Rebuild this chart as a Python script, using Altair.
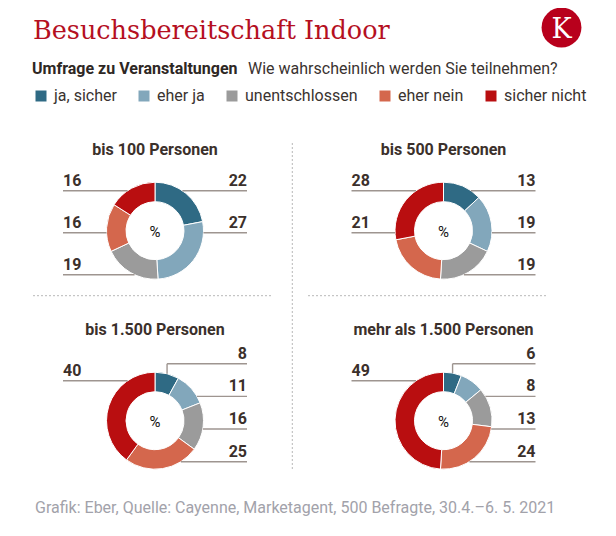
import math
import altair as alt
import pandas as pd

# ---------------- data ----------------
categories = ["ja, sicher", "eher ja", "unentschlossen", "eher nein", "sicher nicht"]
panel_titles = ["bis 100 Personen", "bis 500 Personen", "bis 1.500 Personen", "mehr als 1.500 Personen"]
values_bis_100 = [22, 27, 19, 16, 16]
values_bis_500 = [13, 19, 19, 21, 28]
values_bis_1500 = [8, 11, 16, 25, 40]
values_mehr_1500 = [6, 8, 13, 24, 49]

title_text = "Besuchsbereitschaft Indoor"
subtitle_bold = "Umfrage zu Veranstaltungen"
subtitle_text = "Wie wahrscheinlich werden Sie teilnehmen?"
source_text = "Grafik: Eber, Quelle: Cayenne, Marketagent, 500 Befragte, 30.4.–6. 5. 2021"

# ---------------- styles / layout ----------------
colors = ["#2f6a84", "#82a7bb", "#9b9b9b", "#d4674d", "#b90e10"]
RED = "#b5101f"
DARK = "#3b302b"
W, H = 600, 520
col_x = [147, 435.5]
row_y = [222.7, 412.7]
title_y = [147, 327]
R_OUT, R_IN, REACH = 48.5, 29, 92

panel_values = [values_bis_100, values_bis_500, values_bis_1500, values_mehr_1500]

arc_rows, rule_rows, label_rows, ptitle_rows, center_rows = [], [], [], [], []
for p, (ptitle, vals) in enumerate(zip(panel_titles, panel_values)):
    cx = col_x[p % 2]
    cy = row_y[p // 2]
    total = sum(vals)
    cum = 0
    items = []
    for cat, v in zip(categories, vals):
        t0, t1 = cum, cum + v
        cum = t1
        arc_rows.append(dict(panel=ptitle, category=cat, t0=t0 / total * 100,
                             t1=t1 / total * 100, cx=cx, cy=cy))
        mid = (t0 + t1) / 2 / total * 2 * math.pi
        items.append(dict(val=v, mid=mid, side="right" if mid < math.pi else "left"))
    right = sorted([i for i in items if i["side"] == "right"], key=lambda d: d["mid"])
    left = sorted([i for i in items if i["side"] == "left"], key=lambda d: -d["mid"])
    for group, sgn in ((right, 1), (left, -1)):
        n = len(group)
        if n == 0:
            continue
        step = 42 if n < 2 else min(42, 98 / (n - 1))
        span = step * (n - 1)
        top = -40 if span <= 90 else 41 - span
        for k, it in enumerate(group):
            dy = top + k * step
            ly = cy + dy
            x_out = cx + sgn * REACH
            if abs(dy) < R_OUT:
                x_in = cx + sgn * math.sqrt(R_OUT ** 2 - dy ** 2)
            else:
                ax = cx + R_OUT * math.sin(it["mid"])
                ay = cy - R_OUT * math.cos(it["mid"])
                x_in = ax
                rule_rows.append(dict(x=ax, x2=ax, y=ay, y2=ly))
            rule_rows.append(dict(x=min(x_in, x_out), x2=max(x_in, x_out), y=ly, y2=ly))
            label_rows.append(dict(x=x_out, y=ly - 5, text=str(it["val"]), side=it["side"]))
    ptitle_rows.append(dict(x=cx, y=title_y[p // 2], text=ptitle))
    center_rows.append(dict(x=cx, y=cy + 6, text="%"))

arcs = pd.DataFrame(arc_rows)
rules = pd.DataFrame(rule_rows)
labels = pd.DataFrame(label_rows)
ptitles = pd.DataFrame(ptitle_rows)
centers = pd.DataFrame(center_rows)

xs = alt.Scale(domain=[0, W], range=[0, W])
ys = alt.Scale(domain=[0, H], range=[0, H])


def X(f):
    return alt.X(f, type="quantitative", scale=xs, axis=None)


def Y(f):
    return alt.Y(f, type="quantitative", scale=ys, axis=None)


donuts = alt.Chart(arcs).mark_arc(radius=R_OUT, radius2=R_IN, stroke="white", strokeWidth=1).encode(
    x=X("cx"), y=Y("cy"),
    theta=alt.Theta("t0:Q", stack=None, scale=alt.Scale(domain=[0, 100], range=[0, 2 * math.pi])),
    theta2="t1:Q",
    color=alt.Color("category:N", scale=alt.Scale(domain=categories, range=colors),
                    legend=alt.Legend(orient="none", legendX=25, legendY=80, direction="horizontal",
                                      title=None, symbolType="square", symbolSize=121,
                                      symbolStrokeWidth=0, symbolOpacity=1, labelFont="Roboto",
                                      labelFontSize=16, labelColor="#3a3330", columnPadding=19,
                                      labelOffset=5, padding=0, labelLimit=300)),
)

leader = alt.Chart(rules).mark_rule(color="#9e9590", strokeWidth=1.4).encode(
    x=X("x"), x2="x2", y=Y("y"), y2="y2")

lab_r = alt.Chart(labels[labels.side == "right"]).mark_text(
    align="right", baseline="alphabetic", font="Roboto", fontSize=16, fontWeight="bold", color=DARK
).encode(x=X("x"), y=Y("y"), text="text:N")
lab_l = alt.Chart(labels[labels.side == "left"]).mark_text(
    align="left", baseline="alphabetic", font="Roboto", fontSize=16, fontWeight="bold", color=DARK
).encode(x=X("x"), y=Y("y"), text="text:N")

ptitle_layer = alt.Chart(ptitles).mark_text(
    align="center", baseline="alphabetic", font="Roboto", fontSize=16, fontWeight="bold", color=DARK
).encode(x=X("x"), y=Y("y"), text="text:N")

pct = alt.Chart(centers).mark_text(
    align="center", baseline="alphabetic", font="Roboto", fontSize=15, color="#111111"
).encode(x=X("x"), y=Y("y"), text="text:N")

# separators (decoration)
sep_df = pd.DataFrame([
    dict(x=284.3, x2=284.3, y=135, y2=462),
    dict(x=25, x2=265, y=287.7, y2=287.7),
    dict(x=300, x2=540, y=287.7, y2=287.7),
])
seps = alt.Chart(sep_df).mark_rule(color="#b8b8b8", strokeWidth=1, strokeDash=[2, 2]).encode(
    x=X("x"), x2="x2", y=Y("y"), y2="y2")

# title / subtitle / footer
def txt(s, x, y, **kw):
    return alt.Chart(pd.DataFrame({"t": [s]})).mark_text(baseline="alphabetic", **kw).encode(
        x=alt.value(x), y=alt.value(y), text="t:N")

title = txt(title_text, 25, 30.5, align="left", font="DejaVu Serif", fontSize=25.5, color=RED)
sub1 = txt(subtitle_bold, 24, 66, align="left", font="Roboto", fontSize=16, fontWeight="bold", color="#2e2724")
sub2 = txt(subtitle_text, 240, 66, align="left", font="Roboto", fontSize=16, color="#3a3330")
foot = txt(source_text, 27, 505, align="left", font="Roboto", fontSize=16, color="#a2a2aa")

logo = alt.Chart(pd.DataFrame({"t": ["K"]})).mark_circle(size=math.pi * 22.5 ** 2, color="#b8001c", opacity=1).encode(
    x=alt.value(553.5), y=alt.value(19.5))
logo_k = txt("K", 553.5, 29.5, align="center", font="DejaVu Serif", fontSize=27, color="white")

chart = alt.layer(
    seps, donuts, leader, lab_r, lab_l, ptitle_layer, pct, title, sub1, sub2, foot, logo, logo_k
).properties(
    width=W, height=H, padding=0, autosize=alt.AutoSizeParams(type="none")
).configure_view(stroke=None)

chart.save("out.html", embed_options={"renderer": "svg", "actions": False})
